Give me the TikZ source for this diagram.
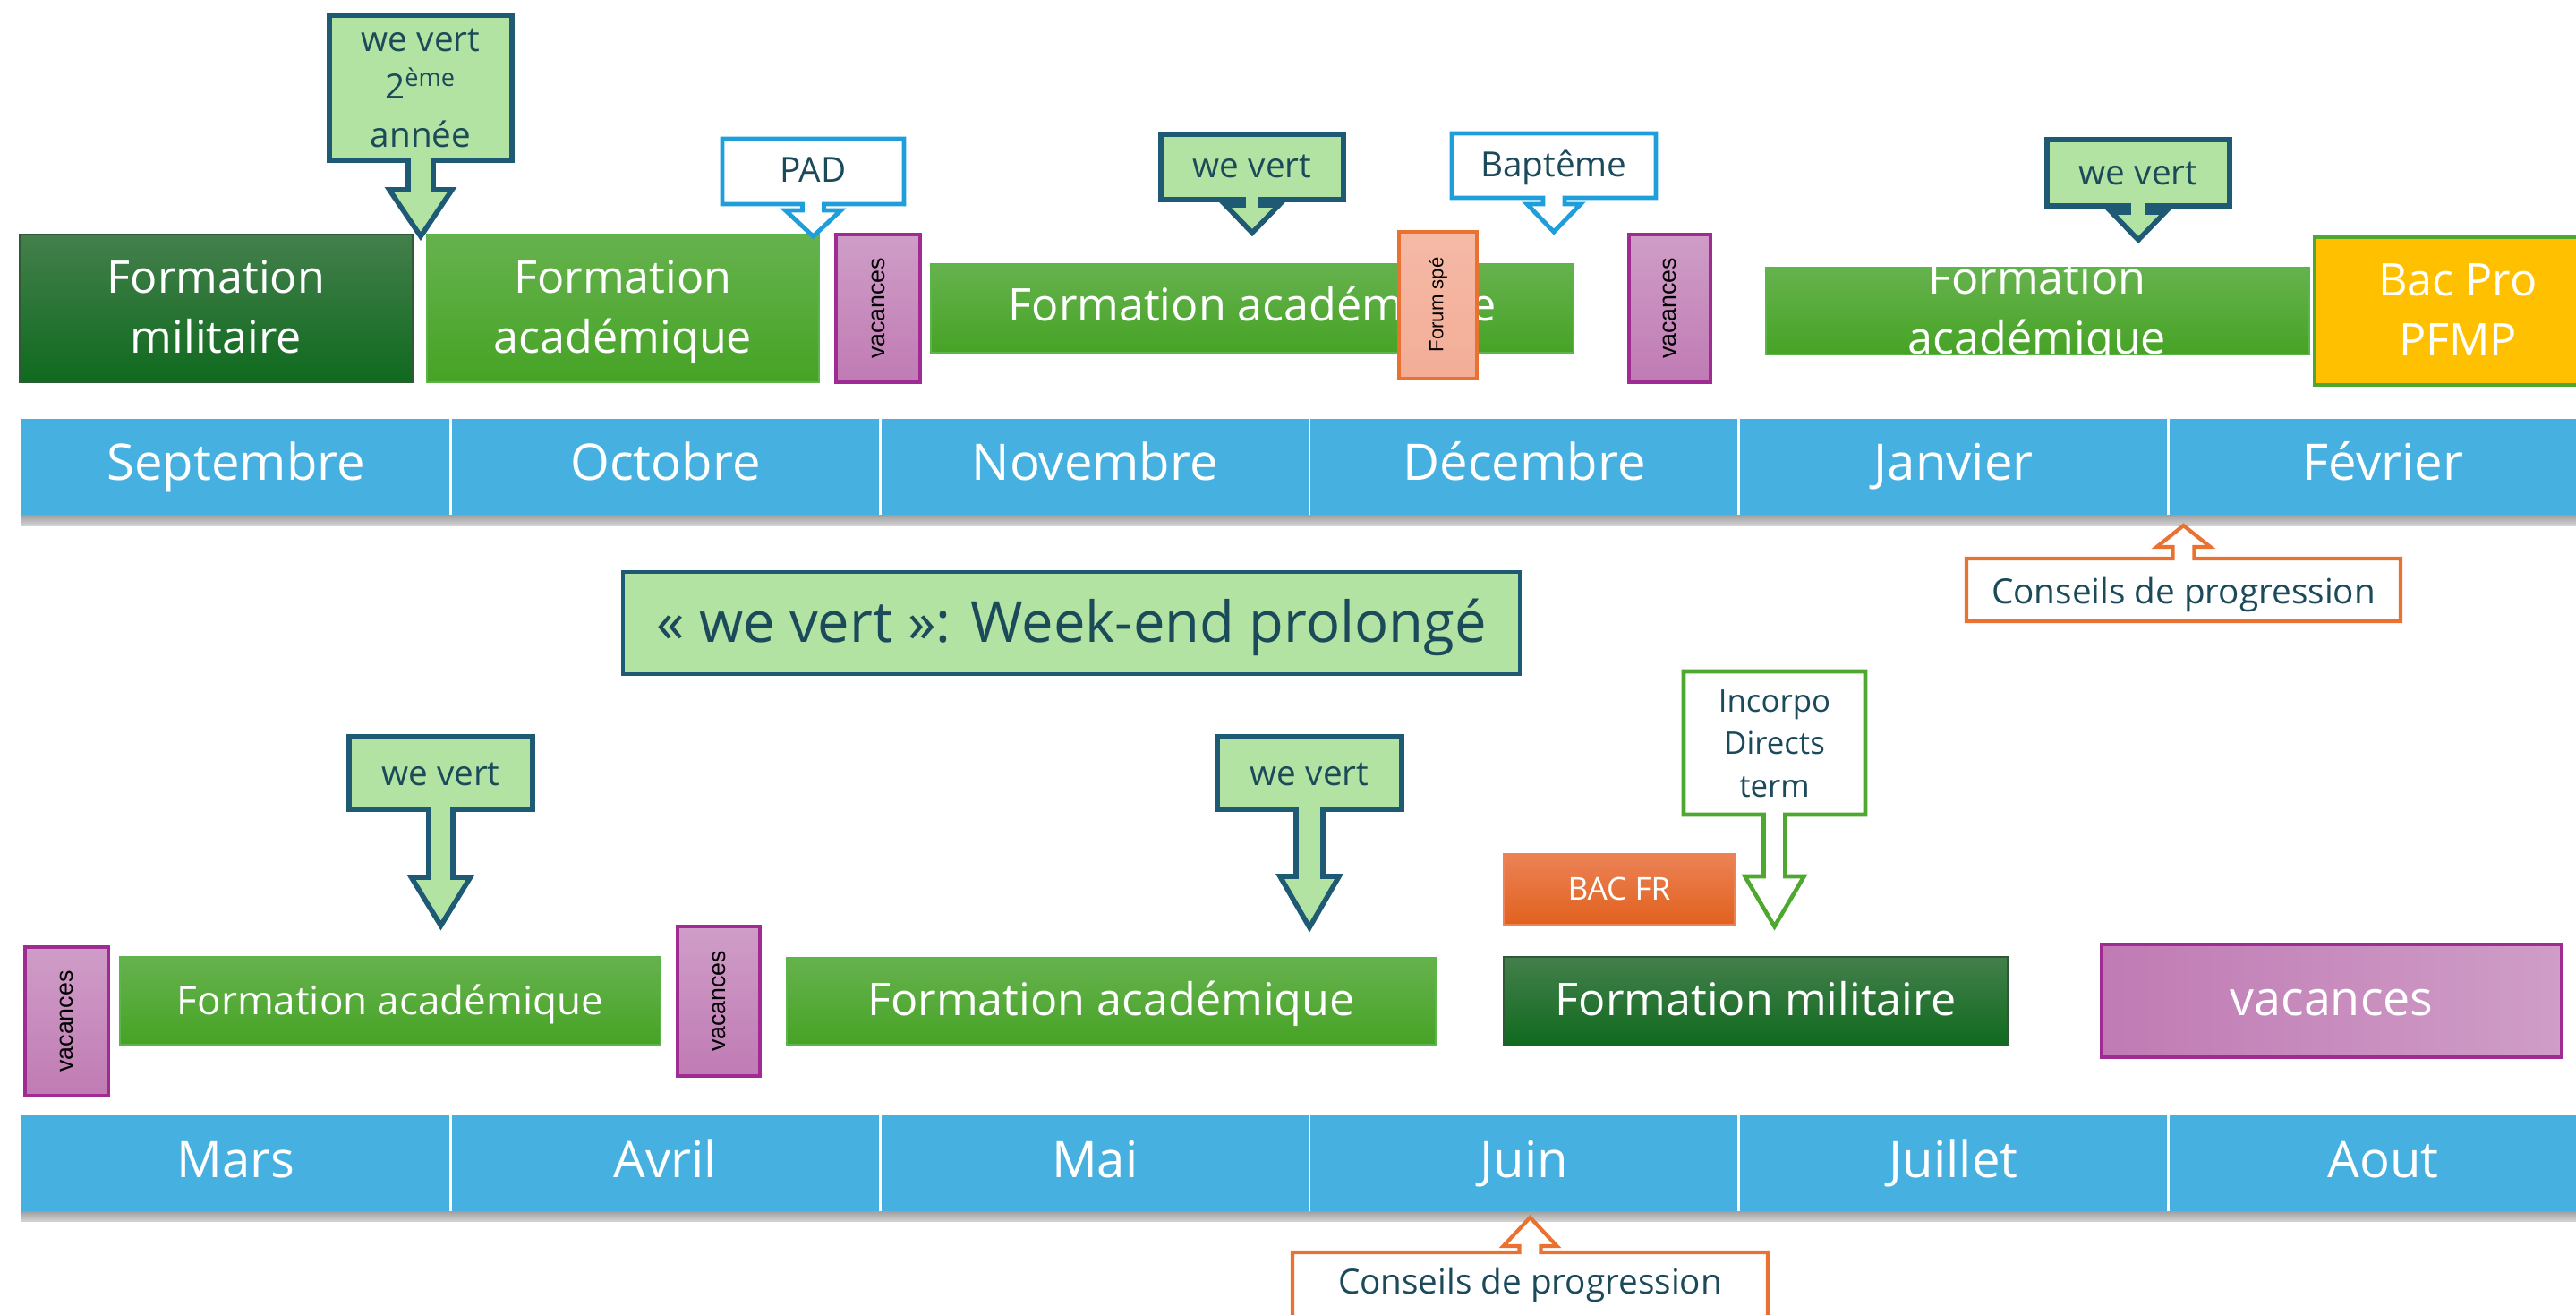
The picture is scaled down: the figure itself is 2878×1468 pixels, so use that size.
\documentclass[tikz,border=0pt]{standalone}
\usepackage{fontspec}
\setmainfont{Open Sans}
\newfontfamily\arialfont{Liberation Sans}
\definecolor{monthblue}{HTML}{46B1E1}
\definecolor{milgreenA}{HTML}{447F4C}
\definecolor{milgreenB}{HTML}{0F6A1E}
\definecolor{acagreenA}{HTML}{66B24E}
\definecolor{acagreenB}{HTML}{46A325}
\definecolor{acaline}{HTML}{5CB54A}
\definecolor{vacA}{HTML}{CF9DC7}
\definecolor{vacB}{HTML}{C07BB4}
\definecolor{vacline}{HTML}{A02B93}
\definecolor{wvfill}{HTML}{B3E3A2}
\definecolor{wvline}{HTML}{1E5A74}
\definecolor{wvtext}{HTML}{1B4A5A}
\definecolor{padline}{HTML}{1E9FDB}
\definecolor{orangeline}{HTML}{E97132}
\definecolor{forumfill}{HTML}{F3AD97}
\definecolor{bacfrA}{HTML}{EC8255}
\definecolor{bacfrB}{HTML}{E1611E}
\definecolor{bacproyellow}{HTML}{FFC000}
\definecolor{proline}{HTML}{4EA72E}
\newcommand{\downcallout}[9]{%
  \pgfmathsetmacro{\calloutmid}{(#2+#4)/2}
  \draw[#1] (#2,#3) -- (#4,#3) -- (#4,#5) -- (\calloutmid+#8,#5) -- (\calloutmid+#8,#7)
    -- (\calloutmid+#9,#7) -- (\calloutmid,#6) -- (\calloutmid-#9,#7) -- (\calloutmid-#8,#7)
    -- (\calloutmid-#8,#5) -- (#2,#5) -- cycle;}
\newcommand{\upcallout}[9]{%
  \pgfmathsetmacro{\calloutmid}{(#2+#4)/2}
  \draw[#1] (#2,#3) -- (\calloutmid-#8,#3) -- (\calloutmid-#8,#7) -- (\calloutmid-#9,#7)
    -- (\calloutmid,#6) -- (\calloutmid+#9,#7) -- (\calloutmid+#8,#7) -- (\calloutmid+#8,#3)
    -- (#4,#3) -- (#4,#5) -- (#2,#5) -- cycle;}
\begin{document}
\begin{tikzpicture}[x=0.01cm,y=-0.01cm,
    monthtxt/.style={font=\fontsize{16}{19}\selectfont, text=white, inner sep=0pt, anchor=base},
    bigtxt/.style={font=\fontsize{14.3}{19}\selectfont, text=white, inner sep=0pt, align=center, anchor=base},
    medtxt/.style={font=\fontsize{12.5}{15}\selectfont, text=white, inner sep=0pt, anchor=base},
    vactxt/.style={font=\arialfont\fontsize{7.6}{9}\selectfont, text=black, inner sep=0pt, rotate=90},
    forumtxt/.style={font=\arialfont\fontsize{6.3}{8}\selectfont, text=black, inner sep=0pt, rotate=90},
    wvtxt/.style={font=\fontsize{11}{15.2}\selectfont, text=wvtext, inner sep=0pt, align=center, anchor=base},
    milbox/.style={top color=milgreenA, bottom color=milgreenB, draw=milgreenA!70!black, line width=0.5pt},
    acabox/.style={top color=acagreenA, bottom color=acagreenB, draw=acaline, line width=0.6pt},
    vacbox/.style={top color=vacA, bottom color=vacB, draw=vacline, line width=1.1pt},
    wevertbox/.style={fill=wvfill, draw=wvline, line width=1.6pt},
    padbox/.style={fill=white, draw=padline, line width=1.4pt},
    conbox/.style={fill=white, draw=orangeline, line width=1.2pt},
    incbox/.style={fill=white, draw=proline, line width=1.3pt}]
\useasboundingbox (0,0) rectangle (2878,1468);
\clip (0,0) rectangle (2878,1468);
\fill[white] (0,0) rectangle (2878,1468);

\fill[monthblue] (24,468) rectangle (2900,575);
\shade[top color=gray!75, bottom color=gray!35] (24,575) rectangle (2900,587);
\draw[white, line width=0.8pt] (503.7,468) -- (503.7,575) (983.4,468) -- (983.4,575)
  (1463,468) -- (1463,575) (1942.8,468) -- (1942.8,575) (2422.5,468) -- (2422.5,575);
\node[monthtxt] (sep) at (263.8,536) {Septembre};
\node[monthtxt] (oct) at (743.5,536) {Octobre};
\node[monthtxt] (nov) at (1223.2,536) {Novembre};
\node[monthtxt] (dec) at (1703,536) {Décembre};
\node[monthtxt] (jan) at (2182.7,536) {Janvier};
\node[monthtxt] (fev) at (2662.4,536) {Février};

\fill[monthblue] (24,1246) rectangle (2900,1353);
\shade[top color=gray!75, bottom color=gray!35] (24,1353) rectangle (2900,1364);
\draw[white, line width=0.8pt] (503.7,1246) -- (503.7,1353) (983.4,1246) -- (983.4,1353)
  (1463,1246) -- (1463,1353) (1942.8,1246) -- (1942.8,1353) (2422.5,1246) -- (2422.5,1353);
\node[monthtxt] (mar) at (263.8,1315) {Mars};
\node[monthtxt] (avr) at (743.5,1315) {Avril};
\node[monthtxt] (mai) at (1223.2,1315) {Mai};
\node[monthtxt] (juin) at (1703,1315) {Juin};
\node[monthtxt] (juil) at (2182.7,1315) {Juillet};
\node[monthtxt] (aout) at (2662.4,1315) {Aout};

\draw[milbox] (22,262) rectangle (461,427);
\node[bigtxt] (fm1) at (241.5,394) {Formation\\militaire};
\draw[acabox] (477,262) rectangle (915,427);
\node[bigtxt] (fa1) at (696,394) {Formation\\académique};
\draw[vacbox] (934,262) rectangle (1028,427);
\node[vactxt] (v1) at (981,344.5) {vacances};
\draw[acabox] (1040,295) rectangle (1758,394);
\node[bigtxt] (fa2) at (1399,358) {Formation académique};
\draw[top color=forumfill!85!white, bottom color=forumfill, draw=orangeline, line width=1.1pt] (1563,259) rectangle (1650,423);
\node[forumtxt] (fs) at (1606.5,340.5) {Forum spé};
\draw[vacbox] (1820,262) rectangle (1911,427);
\node[vactxt] (v2) at (1865.5,344.5) {vacances};
\draw[acabox] (1973,299) rectangle (2580,396);
\node[bigtxt] (fa3) at (2276,395) {Formation\\académique};
\draw[fill=bacproyellow, draw=proline, line width=1.2pt] (2586,265) rectangle (2906,430);
\node[bigtxt] (bp) at (2746,397) {Bac Pro\\PFMP};

\downcallout{wevertbox}{368}{17}{572}{179}{264}{212}{14}{35}
\node[wvtxt] (wv1) at (470,164) {we vert\\2\textsuperscript{ème}\\année};
\downcallout{padbox}{807}{155}{1010}{228}{264}{235}{12}{31}
\node[wvtxt] (pad) at (908.5,203) {PAD};
\downcallout{wevertbox}{1297}{150}{1501}{223}{260}{229}{10}{30}
\node[wvtxt] (wv2) at (1399,198) {we vert};
\downcallout{padbox}{1622}{149}{1850}{221}{259}{228}{12}{30}
\node[wvtxt] (bap) at (1736,197) {Baptême};
\downcallout{wevertbox}{2287}{156}{2491}{230}{268}{237}{11}{30}
\node[wvtxt] (wv3) at (2389,206) {we vert};

\upcallout{conbox}{2197}{624}{2682}{694}{587}{611}{12}{30}
\node[wvtxt, font=\fontsize{11}{14}\selectfont] (cp1) at (2439.5,674) {Conseils de progression};

\draw[fill=wvfill, draw=wvline, line width=1pt] (696,639) rectangle (1698,753);
\node[wvtxt, font=\fontsize{18}{22}\selectfont] (we) at (1197,717) {«~we vert~»: Week-end prolongé};

\draw[vacbox] (28,1058) rectangle (121,1224);
\node[vactxt] (v3) at (74.5,1141) {vacances};
\draw[acabox] (134,1069) rectangle (738,1167);
\node[medtxt] (fa4) at (436,1133) {Formation académique};
\draw[vacbox] (757,1035) rectangle (849,1202);
\node[vactxt] (v4) at (803,1118.5) {vacances};
\draw[acabox] (879,1070) rectangle (1604,1167);
\node[bigtxt] (fa5) at (1241.5,1134) {Formation académique};
\draw[milbox] (1680,1069) rectangle (2243,1168);
\node[bigtxt] (fm2) at (1961.5,1134) {Formation militaire};
\draw[left color=vacB, right color=vacA, draw=vacline, line width=1.3pt] (2348,1055) rectangle (2862,1181);
\node[bigtxt, font=\fontsize{15.3}{19}\selectfont] (v5) at (2605,1134) {vacances};
\draw[top color=bacfrA, bottom color=bacfrB, draw=bacfrA, line width=0.5pt] (1680,954) rectangle (1938,1033);
\node[wvtxt, text=white, font=\fontsize{10}{12}\selectfont] (bf) at (1809,1005) {BAC FR};

\downcallout{wevertbox}{390}{823}{595}{904}{1034}{980}{13.5}{33}
\node[wvtxt] (wv4) at (492.5,877) {we vert};
\downcallout{wevertbox}{1360}{823}{1566}{904}{1036}{979}{15}{33}
\node[wvtxt] (wv5) at (1463,877) {we vert};
\downcallout{incbox}{1881}{750}{2084}{910}{1035}{979}{12}{33}
\node[wvtxt, font=\fontsize{9.9}{13.4}\selectfont] (inc) at (1982.5,890) {Incorpo\\Directs\\term};

\upcallout{conbox}{1444}{1399}{1975}{1480}{1360}{1392}{12}{30}
\node[wvtxt, font=\fontsize{11}{14}\selectfont] (cp2) at (1709.5,1445) {Conseils de progression};
\end{tikzpicture}
\end{document}
